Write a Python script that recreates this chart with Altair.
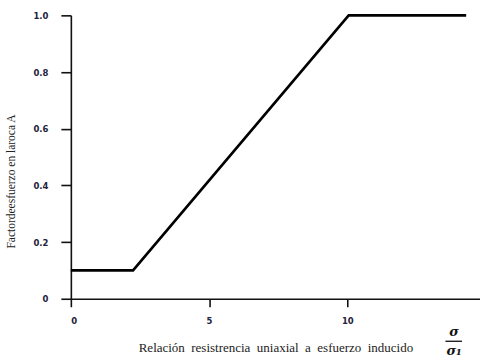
import altair as alt
import pandas as pd

# Stress factor curve: flat, linear rise, then flat at 1.0
ratio = [0.0, 2.25, 10.05, 14.3]
factor = [0.1, 0.1, 1.0, 1.0]

x_ticks = [0, 5, 10]
y_ticks = [0, 0.2, 0.4, 0.6, 0.8, 1.0]

x_words = ["Relación", "resistrencia", "uniaxial", "a", "esfuerzo", "inducido"]
x_title = " \u00a0".join(x_words)
y_title = "Factordeesfuerzo  en laroca A"

curve = pd.DataFrame({"ratio": ratio, "factor": factor})

x_scale = alt.Scale(domain=[0, 14.8], nice=False, zero=False)
y_scale = alt.Scale(domain=[0, 1], nice=False)

label_expr = "datum.value == 0 ? '0' : format(datum.value, '.1f')"

line = alt.Chart(curve).mark_line(color="#000000", strokeWidth=2.6).encode(
    x=alt.X("ratio:Q", scale=x_scale,
            axis=alt.Axis(values=x_ticks, title=x_title, grid=False,
                          tickSize=8, labelPadding=10, titlePadding=16)),
    y=alt.Y("factor:Q", scale=y_scale,
            axis=alt.Axis(values=y_ticks, title=y_title, grid=False,
                          labelExpr=label_expr,
                          tickSize=10, labelPadding=13,
                          titleX=-54, titleY=166)),
)

# sigma / sigma_1 fraction next to the x-axis title
frac = pd.DataFrame({"x": [13.86, 13.86], "y": [-0.118, -0.185],
                     "t": ["σ", "σ₁"]})
frac_text = alt.Chart(frac).mark_text(
    font="DejaVu Serif", fontSize=13, fontWeight="bold", fontStyle="italic",
    color="#111111", clip=False
).encode(x=alt.X("x:Q", scale=x_scale), y=alt.Y("y:Q", scale=y_scale), text="t:N")

bar = pd.DataFrame({"x": [13.55], "x2": [14.15], "y": [-0.15]})
frac_bar = alt.Chart(bar).mark_rule(color="#111111", strokeWidth=1.3, clip=False).encode(
    x=alt.X("x:Q", scale=x_scale), x2="x2:Q", y=alt.Y("y:Q", scale=y_scale)
)

chart = alt.layer(line, frac_bar, frac_text).properties(
    width=410, height=284,
    autosize=alt.AutoSizeParams(type="none"),
    padding={"left": 71, "top": 15, "right": 0, "bottom": 62},
    background="white",
).configure_view(stroke=None).configure_axis(
    domainColor="#111111", domainWidth=1.6,
    tickColor="#111111", tickWidth=1.6,
    labelFont="DejaVu Sans", labelFontSize=8.5, labelColor="#22223a",
    labelFontWeight="bold",
    titleFont="Liberation Serif", titleFontSize=13, titleFontWeight="normal",
    titleColor="#222222",
).configure_axisY(titleFontSize=11.5)

chart.save("out.html", embed_options={"renderer": "svg", "actions": False})
